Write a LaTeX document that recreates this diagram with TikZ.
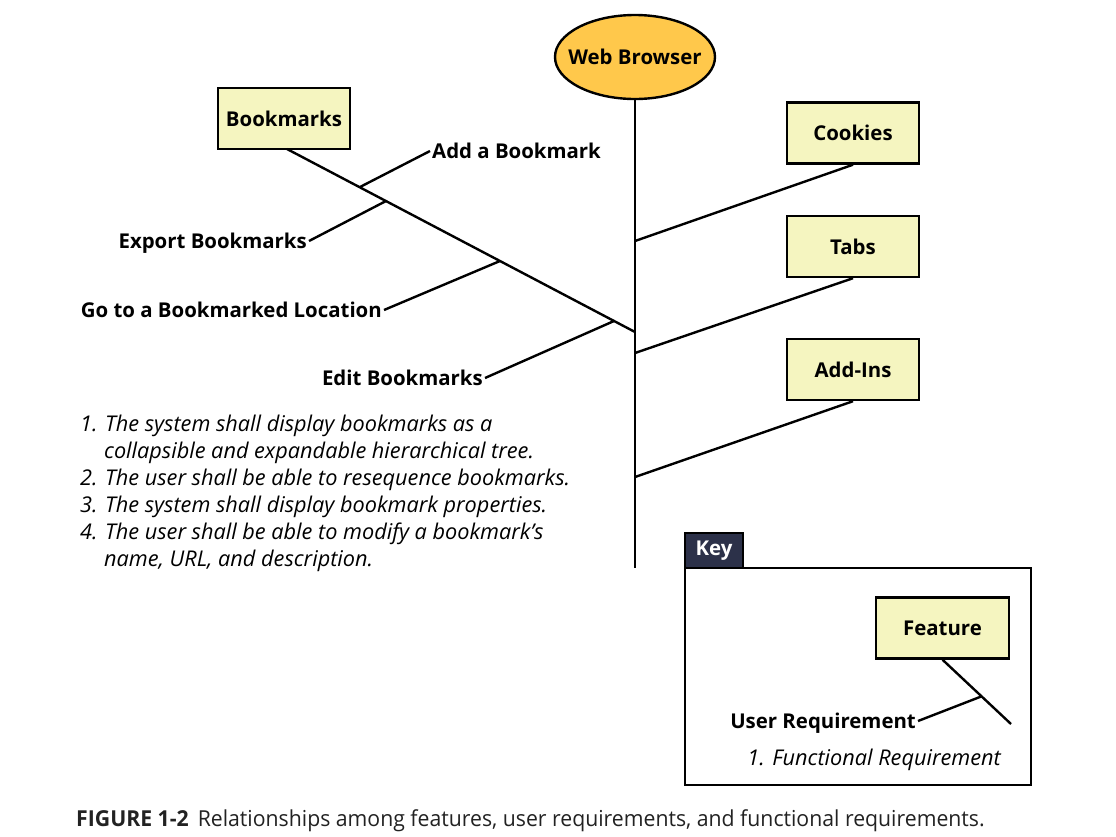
\documentclass[tikz,border=0pt]{standalone}
\usepackage{fontspec}
\setmainfont{Open Sans}
\newfontfamily\capfont{Open Sans}[FakeStretch=0.965]
\usetikzlibrary{shapes.geometric,calc}
\definecolor{featfill}{HTML}{F5F5C0}
\definecolor{rootfill}{HTML}{FFC84B}
\definecolor{keynavy}{HTML}{2C3149}
\definecolor{captxt}{HTML}{222222}
\begin{document}
\begin{tikzpicture}[x=1pt,y=-1pt,
  line/.style={line width=2.4pt},
  feat/.style={draw,line width=2.4pt,fill=featfill,minimum width=132pt,minimum height=61pt,inner sep=0pt,font=\bfseries\fontsize{20.4}{24}\selectfont},
  lbl/.style={inner sep=2pt,font=\bfseries\fontsize{20.4}{24}\selectfont,text height=18pt,text depth=3pt},
  req/.style={anchor=base west,inner sep=0pt,font=\itshape\fontsize{21.7}{26}\selectfont}]
\useasboundingbox (0,0) rectangle (1116,836);
% root
\node[ellipse,draw,line width=2.4pt,fill=rootfill,minimum width=160pt,minimum height=84pt,inner sep=0pt,font=\bfseries\fontsize{20.4}{24}\selectfont] (wb) at (635,57) {\makebox[0pt]{Web Browser}};
\coordinate (trunkend) at (635,568);
\draw[line] (wb.south) -- (trunkend);
% features
\node[feat] (bm) at (284,118.5) {Bookmarks};
\node[feat] (ck) at (853,133) {Cookies};
\node[feat] (tb) at (853,246.5) {Tabs};
\node[feat] (ai) at (853,369.5) {Add-Ins};
\coordinate (bmend) at (635,332);
\coordinate (bmtop) at (287,149);
\draw[line] (bmtop) -- (bmend);
\coordinate (t1) at (635,241);
\coordinate (t2) at (635,353);
\coordinate (t3) at (635,477);
\draw[line] (ck.south) -- (t1);
\draw[line] (tb.south) -- (t2);
\draw[line] (ai.south) -- (t3);
% user requirements
\node[lbl,anchor=west] (ur1) at (430,151) {Add a Bookmark};
\node[lbl,anchor=east] (ur2) at (309,241) {Export Bookmarks};
\node[lbl,anchor=east] (ur3) at (384,310) {Go to a Bookmarked Location};
\node[lbl,anchor=east] (ur4) at (485,378) {Edit Bookmarks};
\coordinate (p1) at (360,187);
\coordinate (p2) at (386,201);
\coordinate (p3) at (500,261);
\coordinate (p4) at (614,321);
\draw[line] (p1) -- (ur1.west);
\draw[line] (p2) -- (ur2.east);
\draw[line] (p3) -- (ur3.east);
\draw[line] (p4) -- (ur4.east);
% functional requirements
\node[req] (r1) at (80,431) {1. The system shall display bookmarks as a};
\node[req] (r2) at (104,458) {collapsible and expandable hierarchical tree.};
\node[req] (r3) at (80,485) {2. The user shall be able to resequence bookmarks.};
\node[req] (r4) at (80,512) {3. The system shall display bookmark properties.};
\node[req] (r5) at (80,539) {4. The user shall be able to modify a bookmark’s};
\node[req] (r6) at (104,566) {name, URL, and description.};
% key
\node[draw,line width=2.4pt,fill=keynavy,minimum width=58pt,minimum height=35pt,inner sep=0pt,text=white,font=\bfseries\fontsize{20.4}{24}\selectfont] (keytab) at (714,550.5) {Key};
\node[draw,line width=2.4pt,minimum width=346pt,minimum height=217pt,inner sep=0pt] (keybox) at (858,676.5) {};
\node[feat,minimum width=133pt] (kf) at (942.5,628) {Feature};
\coordinate (kend) at (1011,724);
\draw[line] (kf.south) -- (kend);
\coordinate (kp) at ($(kf.south)!0.57!(kend)$);
\node[lbl,anchor=east] (kur) at (918,721) {User Requirement};
\draw[line] (kp) -- (kur.east);
\node[req,anchor=base east] (kfr) at (1001,765) {1. Functional Requirement};
% caption
\node[anchor=base west,inner sep=0pt,text=captxt,font=\capfont\fontsize{22}{26}\selectfont] (cap) at (76,826) {\textbf{FIGURE 1-2}\hspace{9pt}Relationships among features, user requirements, and functional requirements.};
\end{tikzpicture}
\end{document}
